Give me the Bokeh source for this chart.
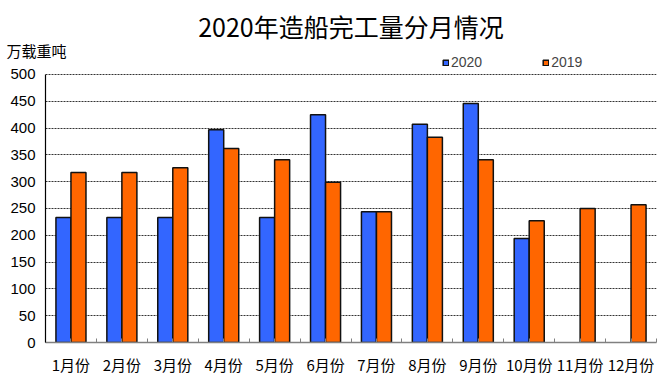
from bokeh.plotting import figure
from bokeh.models import Range1d, FixedTicker, Title, Legend, LegendItem, ColumnDataSource
from bokeh.embed import file_html
from bokeh.resources import INLINE

months = ["1月份", "2月份", "3月份", "4月份", "5月份", "6月份",
          "7月份", "8月份", "9月份", "10月份", "11月份", "12月份"]
v2020 = [233, 233, 233, 397, 233, 425, 244, 407, 446, 194]
v2019 = [317, 317, 326, 362, 341, 299, 244, 383, 341, 227, 250, 257]
y_ticks = [0, 50, 100, 150, 200, 250, 300, 350, 400, 450, 500]
title_text = "2020年造船完工量分月情况"
unit_text = "万载重吨"

BW = 0.295
Y_TOP = 539.1   # headroom above 500 for the legend row

p = figure(width=668, height=378, output_backend="svg", toolbar_location=None,
           x_range=Range1d(0, len(months)), y_range=Range1d(0, Y_TOP),
           min_border_left=45, min_border_right=12, min_border_top=53, min_border_bottom=36)
p.outline_line_color = None
p.background_fill_color = "white"

s20 = ColumnDataSource(dict(x=[i + 0.5 - BW / 2 for i in range(len(v2020))], top=v2020))
s19 = ColumnDataSource(dict(x=[i + 0.5 + BW / 2 for i in range(len(v2019))], top=v2019))
r20 = p.vbar(x="x", top="top", width=BW, source=s20, fill_color="#3366FF",
             line_color="#111111", line_width=1.5)
r19 = p.vbar(x="x", top="top", width=BW, source=s19, fill_color="#FF6600",
             line_color="#111111", line_width=1.5)

# x axis: labels at centres, ticks at boundaries
centers = [i + 0.5 for i in range(len(months))]
bounds = [float(i) for i in range(len(months) + 1)]
xa = p.xaxis[0]
xa.ticker = FixedTicker(ticks=centers + bounds)
overrides = {c: m for c, m in zip(centers, months)}
overrides.update({b: "" for b in bounds})
xa.major_label_overrides = overrides
xa.major_tick_in = 4
xa.major_tick_out = 0
xa.minor_tick_line_color = None
xa.major_tick_line_color = "#808080"
xa.axis_line_color = "#808080"
xa.axis_line_width = 1.5
xa.major_label_text_font = "Noto Sans CJK SC"
xa.major_label_text_font_size = "15px"
xa.major_label_text_color = "black"
xa.major_label_standoff = 11

ya = p.yaxis[0]
ya.ticker = FixedTicker(ticks=y_ticks)
ya.bounds = (0, 500)
ya.major_tick_in = 0
ya.major_tick_out = 0
ya.minor_tick_line_color = None
ya.axis_line_color = "black"
ya.axis_line_width = 1.2
ya.major_label_text_font = "Liberation Sans"
ya.major_label_text_font_size = "15px"
ya.major_label_text_color = "black"
ya.major_label_standoff = 10

p.xgrid.grid_line_color = None
p.ygrid.ticker = FixedTicker(ticks=y_ticks[1:])
p.ygrid.grid_line_color = "#333333"
p.ygrid.grid_line_dash = "2 1"
p.ygrid.grid_line_width = 1

legend = Legend(items=[LegendItem(label="2020", renderers=[r20]),
                       LegendItem(label="2019", renderers=[r19])],
                location=(397, 272), orientation="horizontal",
                glyph_width=7, glyph_height=7, label_standoff=2, spacing=60,
                padding=0, margin=0, border_line_color=None,
                background_fill_alpha=0, label_height=14,
                label_text_font="Liberation Sans", label_text_font_size="14px")
p.add_layout(legend)

p.add_layout(Title(text=unit_text, align="left", offset=-39, standoff=-15,
                   text_font="Noto Sans CJK SC", text_font_size="15px",
                   text_font_style="normal", text_color="black"), "above")
p.add_layout(Title(text=title_text, align="center", offset=3, standoff=3,
                   text_font="Noto Sans CJK SC", text_font_size="25px",
                   text_font_style="normal", text_color="black"), "above")

open("out.html", "w").write(file_html(p, INLINE))
